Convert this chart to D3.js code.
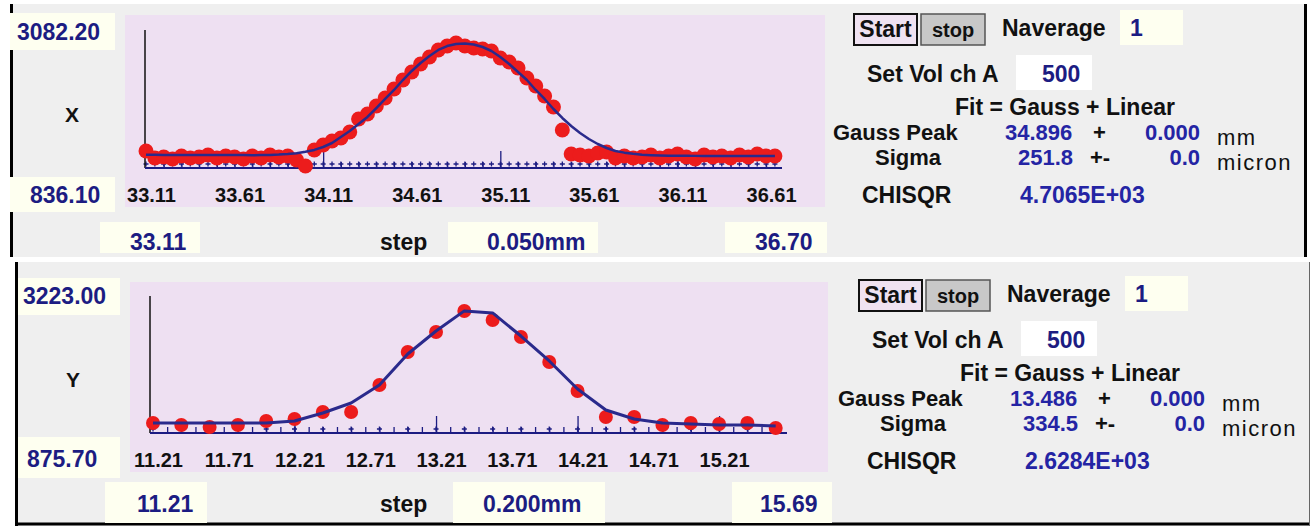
<!DOCTYPE html>
<html>
<head>
<meta charset="utf-8">
<script src="https://cdn.jsdelivr.net/npm/d3@7"></script>
<style>
  body { margin: 0; background: #ffffff; }
  text { font-family: "Liberation Sans", Arial, sans-serif; font-weight: bold; }
</style>
</head>
<body>
<script>
// ---- scan X (mm, counts) ----
var xPosX = [33.11,33.16,33.21,33.26,33.31,33.36,33.41,33.46,33.51,33.56,
             33.61,33.66,33.71,33.76,33.81,33.86,33.91,33.96,34.01,34.06,
             34.11,34.16,34.21,34.26,34.31,34.36,34.41,34.46,34.51,34.56,
             34.61,34.66,34.71,34.76,34.81,34.86,34.91,34.96,35.01,35.06,
             35.11,35.16,35.21,35.26,35.31,35.36,35.41,35.46,35.51,35.56,
             35.61,35.66,35.71,35.76,35.81,35.86,35.91,35.96,36.01,36.06,
             36.11,36.16,36.21,36.26,36.31,36.36,36.41,36.46,36.51,36.56,
             36.61,36.66];
var countsX = [1110,982,1000,964,1019,982,1000,1037,982,1019,
               1000,964,1019,982,1037,1000,1019,946,836.1,1128,
               1220,1293,1347,1457,1694,1786,1932,2078,2242,2406,
               2553,2699,2826,2955,3027,3082.2,3027,2991,2973,2936,
               2808,2735,2626,2443,2297,2114,1913,1494,1055,1037,
               1019,1073,1092,982,1019,982,1000,1037,982,1019,
               1055,1000,964,1037,1000,1019,982,1037,1000,1055,
               1019,1019];
var fitX = [1040,1040,1039,1039,1038,1038,1037,1037,1036,1036,
            1035,1035,1034,1035,1038,1044,1054,1070,1095,1130,
            1183,1256,1366,1475,1603,1731,1895,2060,2224,2406,
            2571,2717,2845,2955,3027,3064,3073,3055,3009,2936,
            2826,2699,2553,2406,2224,2060,1877,1713,1566,1439,
            1329,1238,1165,1110,1080,1058,1043,1034,1028,1025,
            1023,1022,1021,1021,1020,1020,1019,1019,1018,1018,
            1017,1017];
var ticksX = [33.11,33.61,34.11,34.61,35.11,35.61,36.11,36.61];
var rangeX = [836.10, 3082.20];
var scanX = [33.11, 36.70];
var stepX = "0.050mm";
var fitTextX = ["34.896", "0.000", "251.8", "0.0", "4.7065E+03"];

// ---- scan Y ----
var xPosY = [11.21,11.41,11.61,11.81,12.01,12.21,12.41,12.61,12.81,13.01,
             13.21,13.41,13.61,13.81,14.01,14.21,14.41,14.61,14.81,15.01,
             15.21,15.41,15.61];
var countsY = [976,936,896,936,1016,1056,1197,1197,1738,2400,
               2801,3223,3041,2701,2200,1618,1096,1096,936,976,
               956,976,875.7];
var fitY = [976,976,976,976,976,1016,1177,1377,1738,2360,
            2821,3225,3185,2721,2220,1658,1237,1056,976,956,
            936,936,916];
var ticksY = [11.21,11.71,12.21,12.71,13.21,13.71,14.21,14.71,15.21];
var rangeY = [875.70, 3223.00];
var scanY = [11.21, 15.69];
var stepY = "0.200mm";
var fitTextY = ["13.486", "0.000", "334.5", "0.0", "2.6284E+03"];

(function(){
    var W = 1313, H = 529;
    var NAVY = "#1c1c82", VALBLUE = "#2424a4", CREAM = "#fefff0";

    var svg = d3.select("body").append("svg")
        .attr("width", W).attr("height", H);

    drawPanel({
        axisName: "X", xs: xPosX, counts: countsX, fit: fitX, ticks: ticksX,
        range: rangeX, scan: scanX, step: stepX, fitText: fitTextX,
        frame: {x0: 10, x1: 1307, y0: 4, y1: 257, bottom: false},
        plot: [125, 15, 700, 192], axisX: 145, axisTop: 30, base: 168,
        xr: [146, 782], yr: [166, 43], r: 7.5, lw: 2.5,
        topBox: [10, 13, 105, 37, 17, 40], botBox: [10, 177, 105, 35, 30, 203], name: [72, 122],
        row: {y: 222, h: 31, base: 250, b1: [100, 100, 130], step: 380, b2: [448, 150, 487], b3: [725, 102, 755]},
        rdx: 0, rdy: 0
    });

    drawPanel({
        axisName: "Y", xs: xPosY, counts: countsY, fit: fitY, ticks: ticksY,
        range: rangeY, scan: scanY, step: stepY, fitText: fitTextY,
        frame: {x0: 15, x1: 1310, y0: 262, y1: 526, bottom: true},
        plot: [130, 282, 698, 190], axisX: 150, axisTop: 296, base: 433,
        xr: [153, 787], yr: [428, 311], r: 7, lw: 3,
        topBox: [18, 278, 102, 37, 23, 304], botBox: [18, 437, 102, 41, 27, 467], name: [73, 387],
        row: {y: 482, h: 41, base: 512, b1: [105, 102, 137], step: 380, b2: [453, 152, 483], b3: [732, 100, 760]},
        rdx: 5, rdy: 266
    });

    function drawPanel(p){
        var g = svg.append("g");
        var f = p.frame;

        // panel background and frame
        g.append("rect").attr("x", f.x0).attr("y", f.y0)
            .attr("width", f.x1 - f.x0).attr("height", f.y1 - f.y0)
            .attr("fill", "#efefef");
        g.append("line").attr("x1", f.x0 + 1.5).attr("x2", f.x0 + 1.5)
            .attr("y1", f.y0).attr("y2", f.y1)
            .attr("stroke", "#000").attr("stroke-width", 3);
        if (f.bottom) {
            g.append("line").attr("x1", f.x0).attr("x2", f.x1)
                .attr("y1", f.y1 - 2).attr("y2", f.y1 - 2)
                .attr("stroke", "#000").attr("stroke-width", 3);
            g.append("line").attr("x1", f.x1 - 0.5).attr("x2", f.x1 - 0.5)
                .attr("y1", f.y0).attr("y2", f.y1)
                .attr("stroke", "#666").attr("stroke-width", 1);
        } else {
            g.append("line").attr("x1", f.x1 - 1.5).attr("x2", f.x1 - 1.5)
                .attr("y1", f.y0).attr("y2", f.y1)
                .attr("stroke", "#000").attr("stroke-width", 3);
        }

        // plot area
        g.append("rect").attr("x", p.plot[0]).attr("y", p.plot[1])
            .attr("width", p.plot[2]).attr("height", p.plot[3])
            .attr("fill", "#eee0f2");

        var x = d3.scaleLinear().domain([p.scan[0], p.scan[1]]).range(p.xr);
        var y = d3.scaleLinear().domain(p.range).range(p.yr);

        // minor ticks every 0.1 mm, tall ticks every 1 mm
        var nMinor = Math.floor((p.scan[1] - p.scan[0]) / 0.1 + 1e-6);
        var minorVals = d3.range(1, nMinor + 1).map(function(i){ return p.scan[0] + i * 0.1; });
        var majorVals = p.ticks.filter(function(d, i){ return i > 0 && i % 2 == 0; });

        var minorAxis = g.append("g").attr("transform", "translate(0," + p.base + ")")
            .call(d3.axisBottom(x).tickValues(minorVals).tickSize(-6).tickFormat(""));
        var majorAxis = g.append("g").attr("transform", "translate(0," + p.base + ")")
            .call(d3.axisBottom(x).tickValues(majorVals).tickSize(-17).tickFormat(""));
        [minorAxis, majorAxis].forEach(function(a){
            a.select(".domain").remove();
            a.selectAll("line").attr("stroke", NAVY).attr("stroke-width", 1.3);
        });

        // small residual marks along the baseline
        g.append("g").selectAll("path")
            .data(p.xs)
            .enter()
            .append("path")
            .attr("transform", function(d){ return "translate(" + x(d) + "," + (p.base - 4) + ")"; })
            .attr("d", "M-2.5,0H2.5M0,-2.5V2.5")
            .attr("stroke", NAVY).attr("stroke-width", 1.3);

        // axes lines
        g.append("line").attr("x1", p.axisX).attr("x2", p.axisX)
            .attr("y1", p.axisTop).attr("y2", p.base)
            .attr("stroke", "#111").attr("stroke-width", 1.5);
        g.append("line").attr("x1", p.axisX).attr("x2", x.range()[1])
            .attr("y1", p.base).attr("y2", p.base)
            .attr("stroke", NAVY).attr("stroke-width", 2);

        // tick labels
        var labels = g.append("g").attr("transform", "translate(0," + p.base + ")")
            .call(d3.axisBottom(x).tickValues(p.ticks).tickSize(0).tickPadding(20)
                .tickFormat(d3.format(".2f")));
        labels.select(".domain").remove();
        labels.selectAll("text")
            .attr("dx", 5)
            .attr("fill", "#111")
            .style("font-size", "20px")
            .style("font-family", "'Liberation Sans', Arial, sans-serif")
            .style("font-weight", "bold");

        // data points
        g.append("g").selectAll("circle")
            .data(p.counts)
            .enter()
            .append("circle")
            .attr("cx", function(d, i){ return x(p.xs[i]); })
            .attr("cy", function(d){ return y(d); })
            .attr("r", p.r)
            .attr("fill", "#ec1c1c");

        // fit curve
        var line = d3.line()
            .x(function(d, i){ return x(p.xs[i]); })
            .y(function(d){ return y(d); });
        g.append("path")
            .datum(p.fit)
            .attr("d", line)
            .attr("fill", "none")
            .attr("stroke", "#2a2a8c")
            .attr("stroke-width", p.lw)
            .attr("stroke-linejoin", "round");

        // left boxes: y max / y min and the axis name
        var fmt = d3.format(".2f");
        box(g, p.topBox, CREAM);
        txt(g, p.topBox[4], p.topBox[5], fmt(p.range[1]), NAVY, 23);
        box(g, p.botBox, CREAM);
        txt(g, p.botBox[4], p.botBox[5], fmt(p.range[0]), NAVY, 23);
        txt(g, p.name[0], p.name[1], p.axisName, "#111", 21).attr("text-anchor", "middle");

        // bottom row: scan start, step, scan stop
        var rw = p.row;
        box(g, [rw.b1[0], rw.y, rw.b1[1], rw.h], CREAM);
        txt(g, rw.b1[2], rw.base, fmt(p.scan[0]), NAVY, 23);
        txt(g, rw.step, rw.base, "step", "#111", 23);
        box(g, [rw.b2[0], rw.y, rw.b2[1], rw.h], CREAM);
        txt(g, rw.b2[2], rw.base, p.step, NAVY, 23);
        box(g, [rw.b3[0], rw.y, rw.b3[1], rw.h], CREAM);
        txt(g, rw.b3[2], rw.base, fmt(p.scan[1]), NAVY, 23);

        // right side controls and fit results
        var r = g.append("g").attr("transform", "translate(" + p.rdx + "," + p.rdy + ")");
        r.append("rect").attr("x", 854).attr("y", 14).attr("width", 63).attr("height", 31)
            .attr("fill", "#efe2f1").attr("stroke", "#111").attr("stroke-width", 2);
        txt(r, 885.5, 37, "Start", "#111", 23).attr("text-anchor", "middle");
        r.append("rect").attr("x", 921).attr("y", 14).attr("width", 64).attr("height", 31)
            .attr("fill", "#c8c8c8").attr("stroke", "#555").attr("stroke-width", 1.5);
        txt(r, 953, 37, "stop", "#111", 20).attr("text-anchor", "middle");
        txt(r, 1002, 36, "Naverage", "#111", 23);
        box(r, [1120, 10, 63, 35], CREAM);
        txt(r, 1130, 36, "1", NAVY, 23);

        txt(r, 867, 82, "Set Vol ch A", "#111", 23);
        box(r, [1016, 55, 76, 35], "#ffffff");
        txt(r, 1042, 82, "500", NAVY, 23);

        txt(r, 1065, 115, "Fit = Gauss + Linear", "#111", 23).attr("text-anchor", "middle");

        txt(r, 833, 140, "Gauss Peak", "#111", 22);
        txt(r, 1005, 140, p.fitText[0], VALBLUE, 22);
        txt(r, 1093, 140, "+", "#111", 22);
        txt(r, 1200, 140, p.fitText[1], VALBLUE, 22).attr("text-anchor", "end");
        txt(r, 1217, 145, "mm", "#111", 22).style("font-weight", "normal")
            .style("letter-spacing", "1.5px");

        txt(r, 875, 165, "Sigma", "#111", 22);
        txt(r, 1018, 165, p.fitText[2], VALBLUE, 22);
        txt(r, 1090, 165, "+-", "#111", 22);
        txt(r, 1200, 165, p.fitText[3], VALBLUE, 22).attr("text-anchor", "end");
        txt(r, 1217, 170, "micron", "#111", 22).style("font-weight", "normal")
            .style("letter-spacing", "1.5px");

        txt(r, 862, 203, "CHISQR", "#111", 23);
        txt(r, 1020, 203, p.fitText[4], VALBLUE, 23);
    }

    function box(g, b, fill){
        return g.append("rect").attr("x", b[0]).attr("y", b[1])
            .attr("width", b[2]).attr("height", b[3]).attr("fill", fill);
    }

    function txt(g, x, y, s, color, size){
        return g.append("text").attr("x", x).attr("y", y)
            .attr("fill", color).style("font-size", size + "px").text(s);
    }
})();
</script>
</body>
</html>
